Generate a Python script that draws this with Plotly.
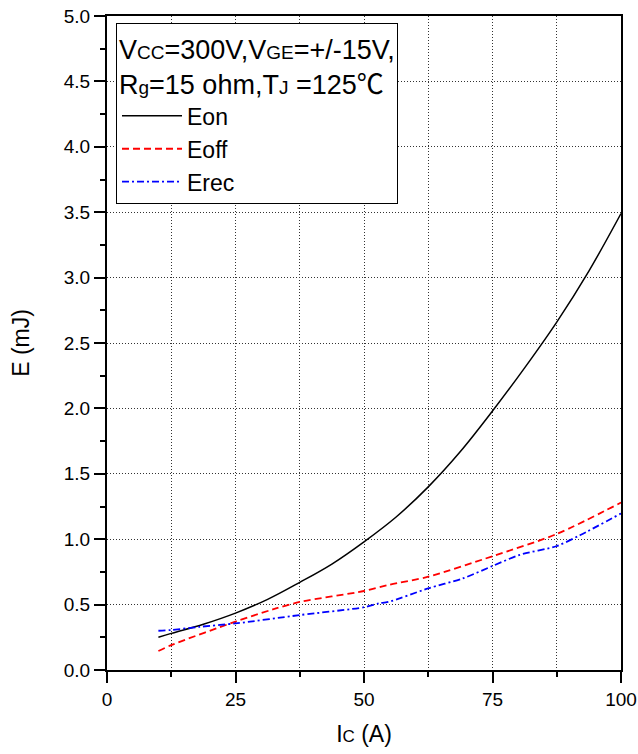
import plotly.graph_objects as go

# ---- data ----
ic_on = [10, 12.5, 18.75, 25, 31.25, 37.5, 43.75, 50, 56.25, 62.5, 68.75, 75, 81.25, 87.5, 93.75, 100]
e_on = [0.25, 0.28, 0.35, 0.435, 0.54, 0.67, 0.81, 0.98, 1.17, 1.40, 1.67, 1.98, 2.31, 2.66, 3.05, 3.49]

ic_off = [10, 12.5, 25, 32.4, 37.5, 50, 54.7, 62.5, 75, 87.5, 100]
e_off = [0.145, 0.19, 0.37, 0.465, 0.52, 0.604, 0.65, 0.713, 0.87, 1.04, 1.28]

ic_rec = [10, 12.5, 18, 25, 37.5, 50, 52.9, 54.7, 62.5, 69.2, 75, 80.3, 87.5, 92, 100]
e_rec = [0.30, 0.306, 0.33, 0.356, 0.42, 0.48, 0.51, 0.52, 0.624, 0.70, 0.795, 0.88, 0.948, 1.03, 1.197]

x_ticks = [0, 25, 50, 75, 100]
y_ticks = [0.0, 0.5, 1.0, 1.5, 2.0, 2.5, 3.0, 3.5, 4.0, 4.5, 5.0]

FONT = "Liberation Sans, Arial, sans-serif"
SMALL = "<span style='font-size:19px'>{}</span>"
SMALL_AX = "<span style='font-size:17px'>{}</span>"
DEG = "<span style='font-family:Noto Sans CJK SC'>℃</span>"
GRID_DASH = "1px,2px"

fig = go.Figure()
fig.add_trace(go.Scatter(x=ic_on, y=e_on, mode="lines", name="Eon",
                         line=dict(color="black", width=1.5, shape="spline", smoothing=1.0)))
fig.add_trace(go.Scatter(x=ic_off, y=e_off, mode="lines", name="Eoff",
                         line=dict(color="#ff0000", width=1.8, dash="7px,4px", shape="spline", smoothing=0.8)))
fig.add_trace(go.Scatter(x=ic_rec, y=e_rec, mode="lines", name="Erec",
                         line=dict(color="#0000ff", width=1.8, dash="7px,3px,2px,3px", shape="spline", smoothing=0.8)))

legend_title = ("V" + SMALL.format("CC") + "=300V,V" + SMALL.format("GE") + "=+/-15V,<br>"
                "R" + SMALL.format("g") + "=15 ohm,T" + SMALL.format("J") + " =125" + DEG)

fig.update_layout(
    width=638, height=754,
    margin=dict(l=107, r=17, t=16, b=84),
    paper_bgcolor="white", plot_bgcolor="white",
    font=dict(family=FONT, size=19, color="black"),
    showlegend=True,
    legend=dict(
        x=0.0175, y=0.989, xanchor="left", yanchor="top",
        bgcolor="white", bordercolor="black", borderwidth=1,
        font=dict(family=FONT, size=23, color="black"),
        title=dict(text=legend_title, side="top", font=dict(family=FONT, size=27, color="black")),
        itemwidth=60, tracegroupgap=0,
    ),
    xaxis=dict(
        range=[0, 100], tickmode="array", tickvals=x_ticks, automargin=False,
        ticklabeloverflow="allow",
        ticks="outside", ticklen=11, tickwidth=2, tickcolor="black",
        showline=True, linecolor="black", linewidth=2, mirror=True,
        showgrid=True, gridcolor="#333", griddash=GRID_DASH, gridwidth=1,
        minor=dict(dtick=12.5, ticks="outside", ticklen=5, tickwidth=2, tickcolor="black",
                   showgrid=True, gridcolor="#333", griddash=GRID_DASH, gridwidth=1),
        zeroline=False,
        title=dict(text="I" + SMALL_AX.format("C") + " (A)", font=dict(family=FONT, size=23), standoff=17),
    ),
    yaxis=dict(
        range=[0, 5], tickmode="array", tickvals=y_ticks, tickformat=".1f", automargin=False,
        ticklabeloverflow="allow",
        ticks="outside", ticklen=11, tickwidth=2, tickcolor="black",
        showline=True, linecolor="black", linewidth=2, mirror=True,
        showgrid=True, gridcolor="#333", griddash=GRID_DASH, gridwidth=1,
        minor=dict(dtick=0.25, ticks="outside", ticklen=5, tickwidth=2, tickcolor="black", showgrid=False),
        zeroline=False,
        title=dict(text="E (mJ)", font=dict(family=FONT, size=23), standoff=28),
    ),
)

# remove the browser's default 8px body margin so the figure fills the window exactly
fig.write_html("out.html", config={"displayModeBar": False},
               post_script="document.body.style.margin='0';document.body.style.overflow='hidden';")
